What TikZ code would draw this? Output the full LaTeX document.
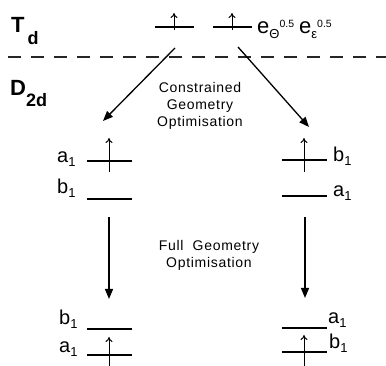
\documentclass[tikz,border=0pt]{standalone}
\usepackage{fontspec}
\setmainfont{Liberation Sans}
\usetikzlibrary{arrows.meta}
\newcommand{\low}[2]{\raisebox{-#1pt}{\fontsize{13}{13}\selectfont #2}}
\newcommand{\up}[1]{\raisebox{6pt}{\fontsize{10.5}{10.5}\selectfont #1}}

\begin{document}
\begin{tikzpicture}[x=1pt, y=-1pt,
  lvl/.style={fill=black, inner sep=0pt, minimum width=45pt, minimum height=2pt},
  elec/.style={-{To[length=5pt,width=7pt]}, line width=1pt},
  arrow/.style={-{Triangle[length=10pt,width=8pt]}, line width=1.3pt},
  divider/.style={dash pattern=on 13pt off 10pt, line width=1.8pt, black!85},
  lbl/.style={anchor=base west, inner sep=0pt, font=\fontsize{20}{20}\selectfont},
  sym/.style={anchor=base west, inner sep=0pt, font=\bfseries\fontsize{22}{22}\selectfont},
  note/.style={align=center, inner sep=0pt, font=\addfontfeature{LetterSpace=5}\fontsize{14}{17}\selectfont}
]
  \useasboundingbox (0,0) rectangle (386,366);

  % symmetry labels and divider
  \node[sym] (td) at (11,33) {T\hspace{3pt}\raisebox{-12pt}{\fontsize{18}{18}\selectfont d}};
  \node[sym] (dtd) at (10,96) {D\raisebox{-11pt}{\fontsize{18}{18}\selectfont 2d}};
  \coordinate (dl) at (8,57);
  \coordinate (dr) at (386,57);
  \draw[divider] (dl) -- (dr);

  % T_d levels
  \node[lvl, minimum width=39pt] (ta) at (174,27) {};
  \node[lvl, minimum width=39pt] (tb) at (232,27) {};
  \node[lbl, font=\fontsize{22}{22}\selectfont] (eg) at (257,34) {e\low{5}{Θ}\up{0.5}\hspace{5pt}e\low{5}{ε}\up{0.5}};

  % D_2d, constrained
  \node[lvl] (la) at (109,161) {};
  \node[lvl] (lb) at (109,199) {};
  \node[lvl] (rb) at (304,160) {};
  \node[lvl] (ra) at (304,196) {};
  \node[lbl] at (57,163) {a\low{4}{1}};
  \node[lbl] at (57,194) {b\low{4}{1}};
  \node[lbl] at (333,162) {b\low{4}{1}};
  \node[lbl] at (333,197) {a\low{4}{1}};

  % D_2d, full
  \node[lvl] (fb) at (109,329) {};
  \node[lvl] (fa) at (109,355) {};
  \node[lvl] (ga) at (304,328) {};
  \node[lvl] (gb) at (304,352) {};
  \node[lbl] at (59,325) {b\low{4}{1}};
  \node[lbl] at (59,353) {a\low{4}{1}};
  \node[lbl] at (328,324) {a\low{4}{1}};
  \node[lbl] at (329,349) {b\low{4}{1}};

  % electrons
  \draw[elec] (ta.center) ++(0,3) -- ++(0,-17);
  \draw[elec] (tb.center) ++(0,3) -- ++(0,-17);
  \draw[elec] (la.center) ++(0,11) -- ++(0,-34);
  \draw[elec] (rb.center) ++(0,12) -- ++(0,-34);
  \draw[elec] (fa.center) ++(0,13) -- ++(0,-31);
  \draw[elec] (gb.center) ++(0,14) -- ++(0,-31);

  % optimisation steps
  \coordinate (s1) at (175,48);
  \coordinate (e1) at (103,121);
  \coordinate (s2) at (238,47);
  \coordinate (e2) at (309,127);
  \coordinate (s3) at (109,217);
  \coordinate (e3) at (109,299);
  \coordinate (s4) at (305,217);
  \coordinate (e4) at (305,298);
  \draw[arrow] (s1) -- (e1);
  \draw[arrow] (s2) -- (e2);
  \draw[arrow] (s3) -- (e3);
  \draw[arrow] (s4) -- (e4);
  \node[note] (cgo) at (200,106) {Constrained\\Geometry\\Optimisation};
  \node[note] (fgo) at (209,255) {Full\ \ Geometry\\Optimisation};
\end{tikzpicture}
\end{document}
